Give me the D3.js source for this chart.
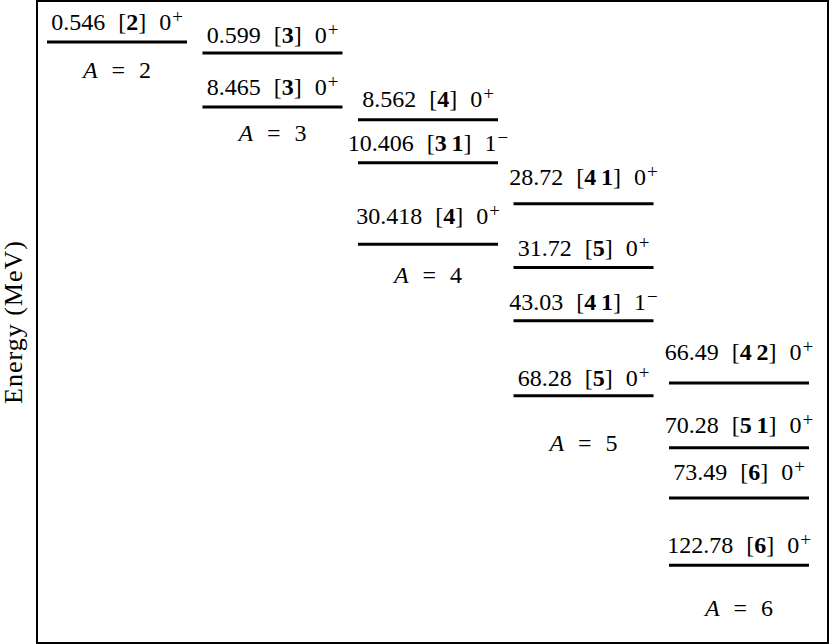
<!DOCTYPE html>
<html>
  <head>
    <meta charset="utf-8" />
    <title>Levels</title>
    <script src="https://cdn.jsdelivr.net/npm/d3@7"></script>
    <style type="text/css">
      html, body { margin: 0; padding: 0; background: #fff; }
      text { font-family: "Liberation Serif", "DejaVu Serif", serif; fill: #000; }
    </style>
  </head>
  <body>
    <svg id="chart" width="830" height="644"></svg>

    <script type="text/javascript">

    // one entry per level
    var levelA      = [2, 3, 3, 4, 4, 4, 5, 5, 5, 5, 6, 6, 6, 6];
    var levelEnergy = ['0.546', '0.599', '8.465', '8.562', '10.406', '30.418', '28.72',
                       '31.72', '43.03', '68.28', '66.49', '70.28', '73.49', '122.78'];
    var levelConfig = [['2'], ['3'], ['3'], ['4'], ['3', '1'], ['4'], ['4', '1'],
                       ['5'], ['4', '1'], ['5'], ['4', '2'], ['5', '1'], ['6'], ['6']];
    var levelSpin   = ['0', '0', '0', '0', '1', '0', '0', '0', '1', '0', '0', '0', '0', '0'];
    var levelParity = ['+', '+', '+', '+', '\u2212', '+', '+', '+', '\u2212', '+', '+', '+', '+', '+'];
    // vertical slot of each level in the schematic (0 = top, 100 = bottom)
    var levelSlot   = [6.4, 8.1, 16.5, 18.5, 25.2, 37.9, 31.6, 41.5, 49.8, 61.5, 59.5, 69.6, 77.4, 87.9];
    var labelSlot   = [4.5, 6.5, 14.6, 16.5, 23.4, 34.7, 28.7, 39.7, 48.1, 60.0, 55.9, 67.3, 74.6, 86.0];

    // one entry per nucleus column
    var massNumbers = [2, 3, 4, 5, 6];
    var massSlot    = [12.0, 21.8, 43.9, 70.1, 95.8];

    var yLabel = 'Energy (MeV)';

    var levels = levelA.map(function(a, i) {
      return {
        a: a, energy: levelEnergy[i], config: levelConfig[i],
        spin: levelSpin[i], parity: levelParity[i],
        slot: levelSlot[i], label: labelSlot[i]
      };
    });

    var svg = d3.select('#chart');

    var frame = { left: 37, top: 1, right: 828, bottom: 643 };

    var x = d3.scaleLinear().domain([2, 6]).range([117, 739]);
    var y = d3.scaleLinear().domain([0, 100]).range([frame.top, frame.bottom]);
    var halfWidth = 70;

    svg.append('rect')
      .attr('x', frame.left)
      .attr('y', frame.top)
      .attr('width', frame.right - frame.left)
      .attr('height', frame.bottom - frame.top)
      .attr('fill', 'none')
      .attr('stroke', '#000')
      .attr('stroke-width', 2);

    svg.append('text')
      .attr('transform', 'translate(13,' + ((frame.top + frame.bottom) / 2) + ') rotate(-90)')
      .attr('text-anchor', 'middle')
      .attr('dy', '0.35em')
      .attr('font-size', 26)
      .attr('letter-spacing', 1)
      .text(yLabel);

    svg.selectAll('.level')
      .data(levels)
      .enter()
      .append('line')
        .attr('class', 'level')
        .attr('x1', function(d) { return x(d.a) - halfWidth; })
        .attr('x2', function(d) { return x(d.a) + halfWidth; })
        .attr('y1', function(d) { return y(d.slot); })
        .attr('y2', function(d) { return y(d.slot); })
        .attr('stroke', '#000')
        .attr('stroke-width', 3);

    var labels = svg.selectAll('.level-label')
      .data(levels)
      .enter()
      .append('text')
        .attr('class', 'level-label')
        .attr('x', function(d) { return x(d.a); })
        .attr('y', function(d) { return y(d.label); })
        .attr('text-anchor', 'middle')
        .attr('font-size', 24);

    labels.each(function(d) {
      var t = d3.select(this);
      t.append('tspan').text(d.energy);
      t.append('tspan').attr('dx', 13).text('[');
      t.append('tspan').attr('font-weight', 'bold').text(d.config.join('\u2009'));
      t.append('tspan').text(']');
      t.append('tspan').attr('dx', 13).text(d.spin);
      t.append('tspan').attr('font-size', 19).attr('dx', 1).attr('dy', -7).text(d.parity);
    });

    var massLabels = svg.selectAll('.mass-label')
      .data(massNumbers)
      .enter()
      .append('text')
        .attr('class', 'mass-label')
        .attr('x', function(d) { return x(d); })
        .attr('y', function(d, i) { return y(massSlot[i]); })
        .attr('text-anchor', 'middle')
        .attr('font-size', 24);

    massLabels.each(function(d) {
      var t = d3.select(this);
      t.append('tspan').attr('font-style', 'italic').text('A');
      t.append('tspan').attr('dx', 14).text('=');
      t.append('tspan').attr('dx', 14).text(d);
    });

    </script>
  </body>
</html>
